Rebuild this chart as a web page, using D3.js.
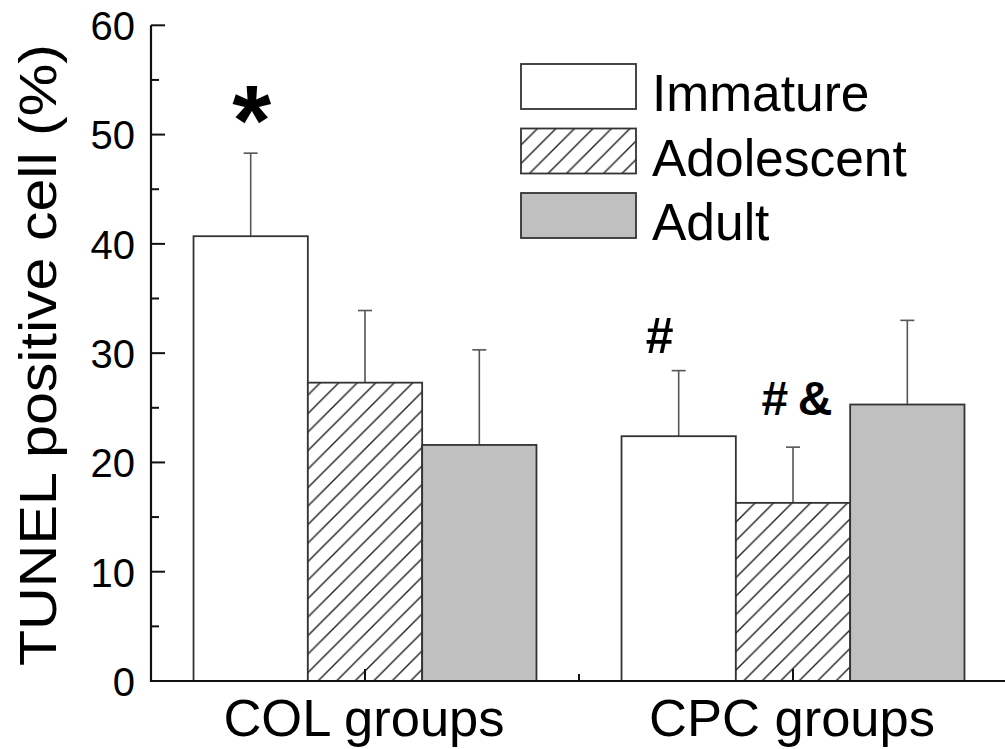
<!DOCTYPE html>
<html><head><meta charset="utf-8">
<script src="https://cdn.jsdelivr.net/npm/d3@7"></script>
<style>body{margin:0;background:#fff;} svg{display:block;font-family:"Liberation Sans",Arial,sans-serif;}</style>
</head><body>
<svg id="chart" width="1005" height="749"></svg>
<script>
const groups = ["COL groups", "CPC groups"];
const seriesNames = ["Immature", "Adolescent", "Adult"];
const immature = [40.7, 22.4];
const adolescent = [27.3, 16.3];
const adult = [21.6, 25.3];
const immatureErr = [7.6, 6.0];
const adolescentErr = [6.6, 5.1];
const adultErr = [8.7, 7.7];
const yTicks = [0, 10, 20, 30, 40, 50, 60];
const annotations = [
  {group: 0, series: 0, text: "*"},
  {group: 1, series: 0, text: "#"},
  {group: 1, series: 1, text: "#\u2009&"}
];

const values = [immature, adolescent, adult];
const errs = [immatureErr, adolescentErr, adultErr];
const fills = ["#ffffff", "url(#hatch)", "#c0c0c0"];

const svg = d3.select("#chart");
const defs = svg.append("defs");
const pat = defs.append("pattern").attr("id", "hatch").attr("patternUnits", "userSpaceOnUse")
  .attr("width", 18.5).attr("height", 18.5);
pat.append("rect").attr("width", 18.5).attr("height", 18.5).attr("fill", "#fff");
pat.append("path").attr("d", "M0,18.5 L18.5,0 M-4.6,4.6 L4.6,-4.6 M13.9,23.1 L23.1,13.9")
  .attr("stroke", "#222").attr("stroke-width", 1.4);

const x0 = 151, x1 = 1007, yB = 681, yT = 25.3;
const y = d3.scaleLinear().domain([0, 60]).range([yB, yT]);
const xg = d3.scaleBand().domain(groups).range([x0, x1]).paddingInner(0).paddingOuter(0);
const xs = d3.scaleBand().domain(seriesNames).range([0, xg.bandwidth()]).paddingInner(0).paddingOuter(0.372);

// bars
seriesNames.forEach((s, si) => {
  groups.forEach((g, gi) => {
    const v = values[si][gi], e = errs[si][gi];
    const bx = xg(g) + xs(s), bw = xs.bandwidth();
    const cx = bx + bw / 2;
    svg.append("line").attr("x1", cx).attr("x2", cx).attr("y1", y(v)).attr("y2", y(v + e))
      .attr("stroke", "#555").attr("stroke-width", 1.6);
    svg.append("line").attr("x1", cx - 7).attr("x2", cx + 7).attr("y1", y(v + e)).attr("y2", y(v + e))
      .attr("stroke", "#555").attr("stroke-width", 1.6);
    svg.append("rect").attr("x", bx).attr("y", y(v)).attr("width", bw).attr("height", y(0) - y(v))
      .attr("fill", fills[si]).attr("stroke", "#333").attr("stroke-width", 1.8);
  });
});

// axes
const yAxis = d3.axisLeft(y).tickValues(yTicks).tickSize(0).tickPadding(16).tickFormat(d3.format("d"));
const gy = svg.append("g").attr("transform", `translate(${x0},0)`).call(yAxis);
gy.select(".domain").remove();
gy.selectAll("text").attr("font-size", 40).attr("fill", "#000").attr("font-family", "Liberation Sans, Arial, sans-serif").attr("dy", "0.36em");
svg.selectAll(".ymaj").data(yTicks).enter().append("line")
  .attr("x1", x0).attr("x2", x0 + 14).attr("y1", d => y(d)).attr("y2", d => y(d))
  .attr("stroke", "#111").attr("stroke-width", 2);
svg.selectAll(".ymin").data(yTicks.slice(0, -1).map(d => d + 5)).enter().append("line")
  .attr("x1", x0).attr("x2", x0 + 8).attr("y1", d => y(d)).attr("y2", d => y(d))
  .attr("stroke", "#111").attr("stroke-width", 2);
svg.append("line").attr("x1", x0).attr("x2", x0).attr("y1", yT).attr("y2", yB + 1)
  .attr("stroke", "#111").attr("stroke-width", 2.2);
svg.append("line").attr("x1", x0).attr("x2", 1005).attr("y1", yB).attr("y2", yB)
  .attr("stroke", "#111").attr("stroke-width", 2.2);
groups.forEach(g => {
  const cx = xg(g) + xg.bandwidth() / 2;
  svg.append("line").attr("x1", cx).attr("x2", cx).attr("y1", yB).attr("y2", yB - 12)
    .attr("stroke", "#111").attr("stroke-width", 2);
});
svg.append("line").attr("x1", xg(groups[1])).attr("x2", xg(groups[1])).attr("y1", yB).attr("y2", yB - 7)
  .attr("stroke", "#111").attr("stroke-width", 2);
svg.selectAll(".xl").data(groups).enter().append("text")
  .attr("x", d => xg(d) + xg.bandwidth() / 2 - 1).attr("y", 736)
  .attr("text-anchor", "middle").attr("font-size", 52.5).attr("fill", "#000").text(d => d);

// y label
svg.append("text").attr("transform", "translate(56,355) rotate(-90)")
  .attr("text-anchor", "middle").attr("font-size", 51).attr("fill", "#000")
  .attr("textLength", 622).attr("lengthAdjust", "spacingAndGlyphs")
  .text("TUNEL positive cell (%)");

// annotations
annotations.forEach(a => {
  const s = seriesNames[a.series], g = groups[a.group];
  const cx = xg(g) + xs(s) + xs.bandwidth() / 2;
  const top = y(values[a.series][a.group] + errs[a.series][a.group]);
  const t = svg.append("text").attr("text-anchor", "middle").attr("fill", "#000").text(a.text);
  if (a.text === "*") {
    t.attr("x", cx + 1).attr("y", top + 2).attr("font-size", 100).attr("font-weight", "bold");
  } else if (a.series === 0) {
    t.attr("x", cx - 19).attr("y", top - 18).attr("font-size", 50).attr("font-weight", "bold");
  } else {
    t.attr("x", cx + 4).attr("y", top - 32).attr("font-size", 48).attr("font-weight", "bold");
  }
});

// legend
const lg = svg.append("g");
seriesNames.forEach((s, i) => {
  const yy = 64 + i * 64.5;
  lg.append("rect").attr("x", 521).attr("y", yy).attr("width", 115).attr("height", 45)
    .attr("fill", fills[i]).attr("stroke", "#333").attr("stroke-width", 1.8);
  lg.append("text").attr("x", 652).attr("y", yy + 47).attr("font-size", 51.5).attr("fill", "#000").text(s);
});
</script>
</body></html>
